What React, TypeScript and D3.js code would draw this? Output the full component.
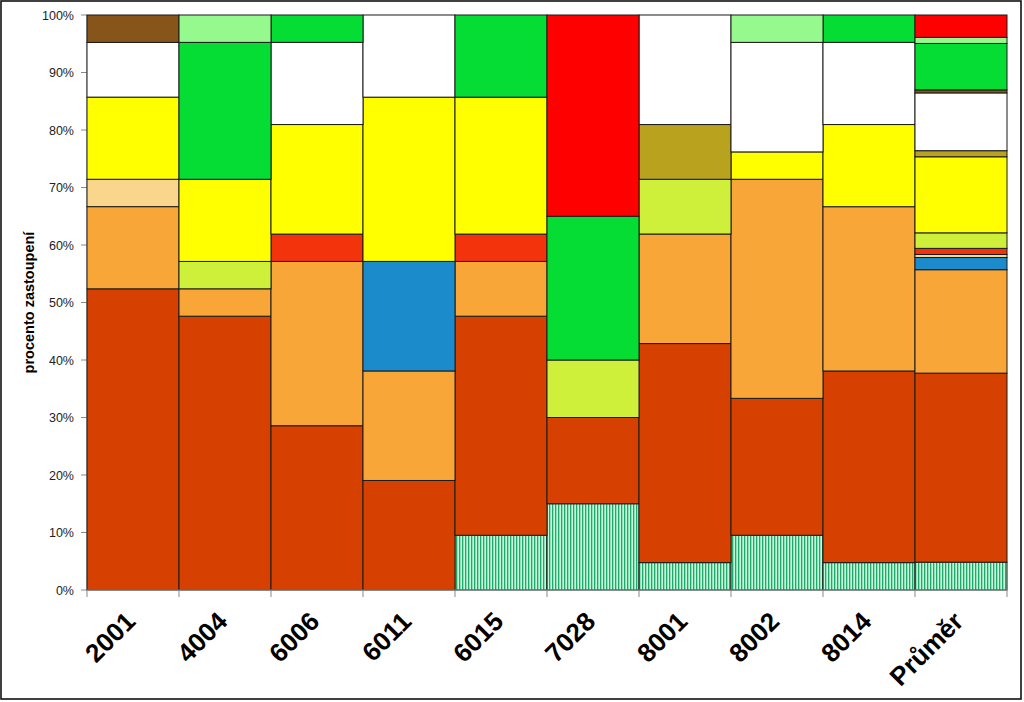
import { scaleBand, scaleLinear, stack, stackOffsetExpand, stackOrderNone } from "d3";
import type { ReactElement } from "react";
import { useMemo } from "react";

const WIDTH = 1024;
const HEIGHT = 702;
const M = { left: 87, right: 16, top: 15, bottom: 112 };

// Categories along the x axis
const categories = ["2001", "4004", "6006", "6011", "6015", "7028", "8001", "8002", "8014", "Průměr"];

// Series, bottom to top (percent of each bar)
const seriesKeys = [
  "hatched", "rust", "orange", "blue", "peach", "vermilion", "lime",
  "yellow", "olive", "white", "brown", "green", "mint", "red",
];

const hatched = [0, 0, 0, 0, 9.52, 15, 4.76, 9.52, 4.76, 4.84];
const rust = [52.38, 47.62, 28.57, 19.05, 38.1, 15, 38.1, 23.81, 33.33, 32.88];
const orange = [14.29, 4.76, 28.57, 19.05, 9.52, 0, 19.05, 38.1, 28.57, 17.99];
const blue = [0, 0, 0, 19.05, 0, 0, 0, 0, 0, 2.12];
const peach = [4.76, 0, 0, 0, 0, 0, 0, 0, 0, 0.53];
const vermilion = [0, 0, 4.76, 0, 4.76, 0, 0, 0, 0, 1.06];
const lime = [0, 4.76, 0, 0, 0, 10, 9.52, 0, 0, 2.7];
const yellow = [14.29, 14.29, 19.05, 28.57, 23.81, 0, 0, 4.76, 14.29, 13.23];
const olive = [0, 0, 0, 0, 0, 0, 9.52, 0, 0, 1.06];
const white = [9.52, 0, 14.29, 14.29, 0, 0, 19.05, 19.05, 14.29, 10.05];
const brown = [4.76, 0, 0, 0, 0, 0, 0, 0, 0, 0.53];
const green = [0, 23.81, 4.76, 0, 14.29, 25, 0, 0, 4.76, 8.07];
const mint = [0, 4.76, 0, 0, 0, 0, 0, 4.76, 0, 1.06];
const red = [0, 0, 0, 0, 0, 35, 0, 0, 0, 3.89];

const seriesValues: Record<string, number[]> = {
  hatched, rust, orange, blue, peach, vermilion, lime, yellow, olive, white, brown, green, mint, red,
};

const seriesColors: Record<string, string> = {
  hatched: "url(#hatch)",
  rust: "#D64000",
  orange: "#F9A638",
  blue: "#1B8BCB",
  peach: "#F9D68C",
  vermilion: "#F2330B",
  lime: "#CFF03A",
  yellow: "#FFFF00",
  olive: "#B9A21E",
  white: "#FFFFFF",
  brown: "#87551A",
  green: "#05DD35",
  mint: "#96F98E",
  red: "#FF0000",
};

const yTicks = [0, 0.1, 0.2, 0.3, 0.4, 0.5, 0.6, 0.7, 0.8, 0.9, 1];

type Row = Record<string, number | string>;

export default function App(): ReactElement {
  const rows: Row[] = useMemo(
    () =>
      categories.map((c, i) => {
        const r: Row = { category: c };
        for (const k of seriesKeys) r[k] = seriesValues[k][i];
        return r;
      }),
    [],
  );

  const layers = useMemo(
    () =>
      stack<Row>()
        .keys(seriesKeys)
        .value((d, k) => d[k] as number)
        .order(stackOrderNone)
        .offset(stackOffsetExpand)(rows),
    [rows],
  );

  const x = scaleBand<string>()
    .domain(categories)
    .range([M.left, WIDTH - M.right - 1])
    .paddingInner(0)
    .paddingOuter(0);
  const y = scaleLinear().domain([0, 1]).range([HEIGHT - M.bottom, M.top]);
  const bw = x.bandwidth();
  const y0 = y(0);

  return (
    <div style={{ position: "fixed", left: 0, top: 0 }}>
      <svg width={WIDTH} height={HEIGHT} style={{ display: "block", fontFamily: "'Liberation Sans', Arial, sans-serif" }}>
        <defs>
          <pattern id="hatch" width={3} height={4} patternUnits="userSpaceOnUse">
            <rect width={3} height={4} fill="#C2F7DA" />
            <rect x={0} width={1.3} height={4} fill="#1FAA6C" />
          </pattern>
        </defs>
        <rect x={0} y={0} width={WIDTH} height={HEIGHT} fill="#fff" />
        <rect x={1} y={1} width={1020} height={698} fill="none" stroke="#111" strokeWidth={1.6} />

        {/* y axis */}
        <line x1={M.left} x2={M.left} y1={M.top} y2={y0} stroke="#8a8a8a" />
        {yTicks.map((t) => (
          <g key={t}>
            <line x1={M.left - 6} x2={M.left} y1={y(t)} y2={y(t)} stroke="#8a8a8a" />
            <text x={M.left - 13} y={y(t) + 4.5} textAnchor="end" fontSize={12.5} fill="#222">
              {`${Math.round(t * 100)}%`}
            </text>
          </g>
        ))}
        <text
          transform={`translate(34, ${(M.top + y0) / 2}) rotate(-90)`}
          textAnchor="middle"
          fontSize={14.5}
          fontWeight="bold"
          fill="#000"
        >
          procento zastoupení
        </text>

        {/* bars */}
        {layers.map((layer) => (
          <g key={layer.key}>
            {layer.map((d, i) => {
              const h = y(d[0]) - y(d[1]);
              if (h <= 0.01) return null;
              return (
                <rect
                  key={i}
                  x={x(categories[i])}
                  y={y(d[1])}
                  width={bw}
                  height={h}
                  fill={seriesColors[layer.key]}
                  stroke="#1a1a1a"
                  strokeWidth={1}
                />
              );
            })}
          </g>
        ))}

        {/* x axis */}
        <line x1={M.left} x2={WIDTH - M.right - 1} y1={y0} y2={y0} stroke="#8a8a8a" />
        {categories.map((c) => (
          <line key={`t${c}`} x1={x(c)} x2={x(c)} y1={y0} y2={y0 + 7} stroke="#8a8a8a" />
        ))}
        <line x1={WIDTH - M.right - 1} x2={WIDTH - M.right - 1} y1={y0} y2={y0 + 7} stroke="#8a8a8a" />
        {categories.map((c) => {
          const cx = (x(c) ?? 0) + bw / 2 + 4;
          return (
            <text
              key={`l${c}`}
              transform={`translate(${cx}, ${y0 + 33}) rotate(-45)`}
              textAnchor="end"
              fontSize={26}
              fontWeight="bold"
              fill="#000"
            >
              {c}
            </text>
          );
        })}
      </svg>
    </div>
  );
}
